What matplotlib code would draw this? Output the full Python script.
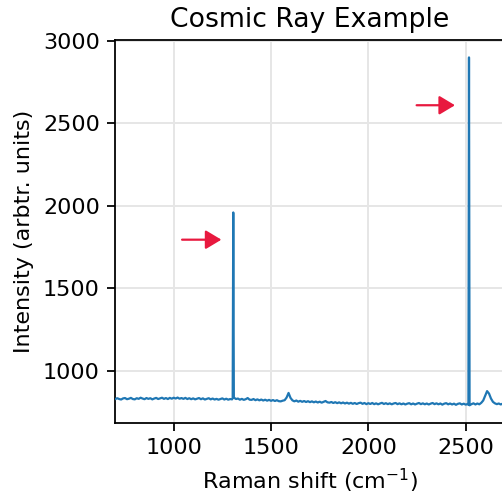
import matplotlib
matplotlib.use("Agg")
from matplotlib import pyplot as plt

# spectrum (cm-1 / counts)
shift = [
    700, 710, 720, 730, 740, 750, 760, 770, 780, 790,
    800, 810, 820, 830, 840, 850, 860, 870, 880, 890,
    900, 910, 920, 930, 940, 950, 960, 970, 980, 990,
    1000, 1010, 1020, 1030, 1040, 1050, 1060, 1070, 1080, 1090,
    1100, 1110, 1120, 1130, 1140, 1150, 1160, 1170, 1180, 1190,
    1200, 1210, 1220, 1230, 1240, 1250, 1260, 1270, 1280, 1290,
    1300, 1303, 1306, 1309, 1320,
    1330, 1340, 1350, 1360, 1370, 1380, 1390, 1400,
    1410, 1420, 1430, 1440, 1450, 1460, 1470, 1480, 1490, 1500,
    1510, 1520, 1530, 1540, 1550, 1560, 1570, 1580, 1590, 1600,
    1610, 1620, 1630, 1640, 1650, 1660, 1670, 1680, 1690, 1700,
    1710, 1720, 1730, 1740, 1750, 1760, 1770, 1780, 1790, 1800,
    1810, 1820, 1830, 1840, 1850, 1860, 1870, 1880, 1890, 1900,
    1910, 1920, 1930, 1940, 1950, 1960, 1970, 1980, 1990, 2000,
    2010, 2020, 2030, 2040, 2050, 2060, 2070, 2080, 2090, 2100,
    2110, 2120, 2130, 2140, 2150, 2160, 2170, 2180, 2190, 2200,
    2210, 2220, 2230, 2240, 2250, 2260, 2270, 2280, 2290, 2300,
    2310, 2320, 2330, 2340, 2350, 2360, 2370, 2380, 2390, 2400,
    2410, 2420, 2430, 2440, 2450, 2460, 2470, 2480, 2490, 2500,
    2510, 2514, 2517, 2520, 2530,
    2540, 2550, 2560, 2570, 2580, 2590, 2600, 2610, 2620, 2630,
    2640, 2650, 2660, 2670, 2680, 2690, 2700,
]
intensity = [
    829, 834, 829, 826, 833, 835, 828, 831, 836, 829,
    827, 834, 830, 837, 832, 828, 835, 830, 834, 827,
    832, 836, 829, 833, 837, 830, 835, 829, 836, 831,
    837, 832, 838, 831, 835, 830, 836, 829, 834, 828,
    833, 827, 831, 835, 828, 833, 826, 830, 834, 827,
    832, 826, 830, 825, 829, 833, 826, 831, 825, 829,
    827, 835, 1960, 838, 829,
    832, 825, 830, 824, 828, 835, 825, 824,
    829, 822, 827, 821, 826, 820, 825, 819, 824, 818,
    823, 817, 822, 816, 815, 819, 822, 838, 866, 836,
    821, 815, 820, 813, 818, 812, 817, 811, 816, 810,
    815, 809, 814, 808, 813, 807, 812, 817, 809, 807,
    811, 805, 810, 804, 809, 803, 808, 802, 807, 801,
    806, 800, 805, 799, 804, 807, 800, 805, 798, 804,
    799, 805, 798, 803, 797, 802, 806, 799, 804, 798,
    803, 797, 802, 805, 798, 803, 797, 802, 796, 801,
    804, 797, 802, 796, 801, 805, 798, 803, 797, 802,
    796, 801, 805, 798, 803, 797, 802, 795, 801, 804,
    797, 802, 796, 801, 794, 800, 803, 796, 801, 795,
    799, 795, 2900, 791, 798,
    803, 796, 802, 797, 806, 820, 848, 877, 862, 832,
    812, 803, 798, 802, 796, 801, 797,
]

# arrows pointing at the cosmic ray spikes: (tail x, tip x, y)
arrow_tail_x = [1043, 2248]
arrow_tip_x = [1245, 2445]
arrow_y = [1795, 2610]

fig = plt.figure(figsize=(502 / 160, 497 / 160), dpi=160)
ax = fig.add_axes([0.2297, 0.1495, 0.7755, 0.770])

ax.plot(shift, intensity, color='#1f77b4', lw=1.0, zorder=3)
ax.grid(True, color='#e6e6e6', lw=0.9, zorder=0)
ax.set_axisbelow(True)

for x0, x1, y in zip(arrow_tail_x, arrow_tip_x, arrow_y):
    ax.annotate('', xy=(x1, y), xytext=(x0, y),
                arrowprops=dict(arrowstyle='-|>,head_length=0.6,head_width=0.36',
                                color='#e8193f', lw=1.0,
                                shrinkA=0, shrinkB=0))

ax.set_xlim(700, 2700)
ax.set_xticks([1000, 1500, 2000, 2500])
ax.set_yticks([1000, 1500, 2000, 2500, 3000])
ax.set_title('Cosmic Ray Example')
ax.set_xlabel('Raman shift (cm$^{-1}$)')
ax.set_ylabel('Intensity (arbtr. units)')

fig.savefig('out.png', dpi=160)
